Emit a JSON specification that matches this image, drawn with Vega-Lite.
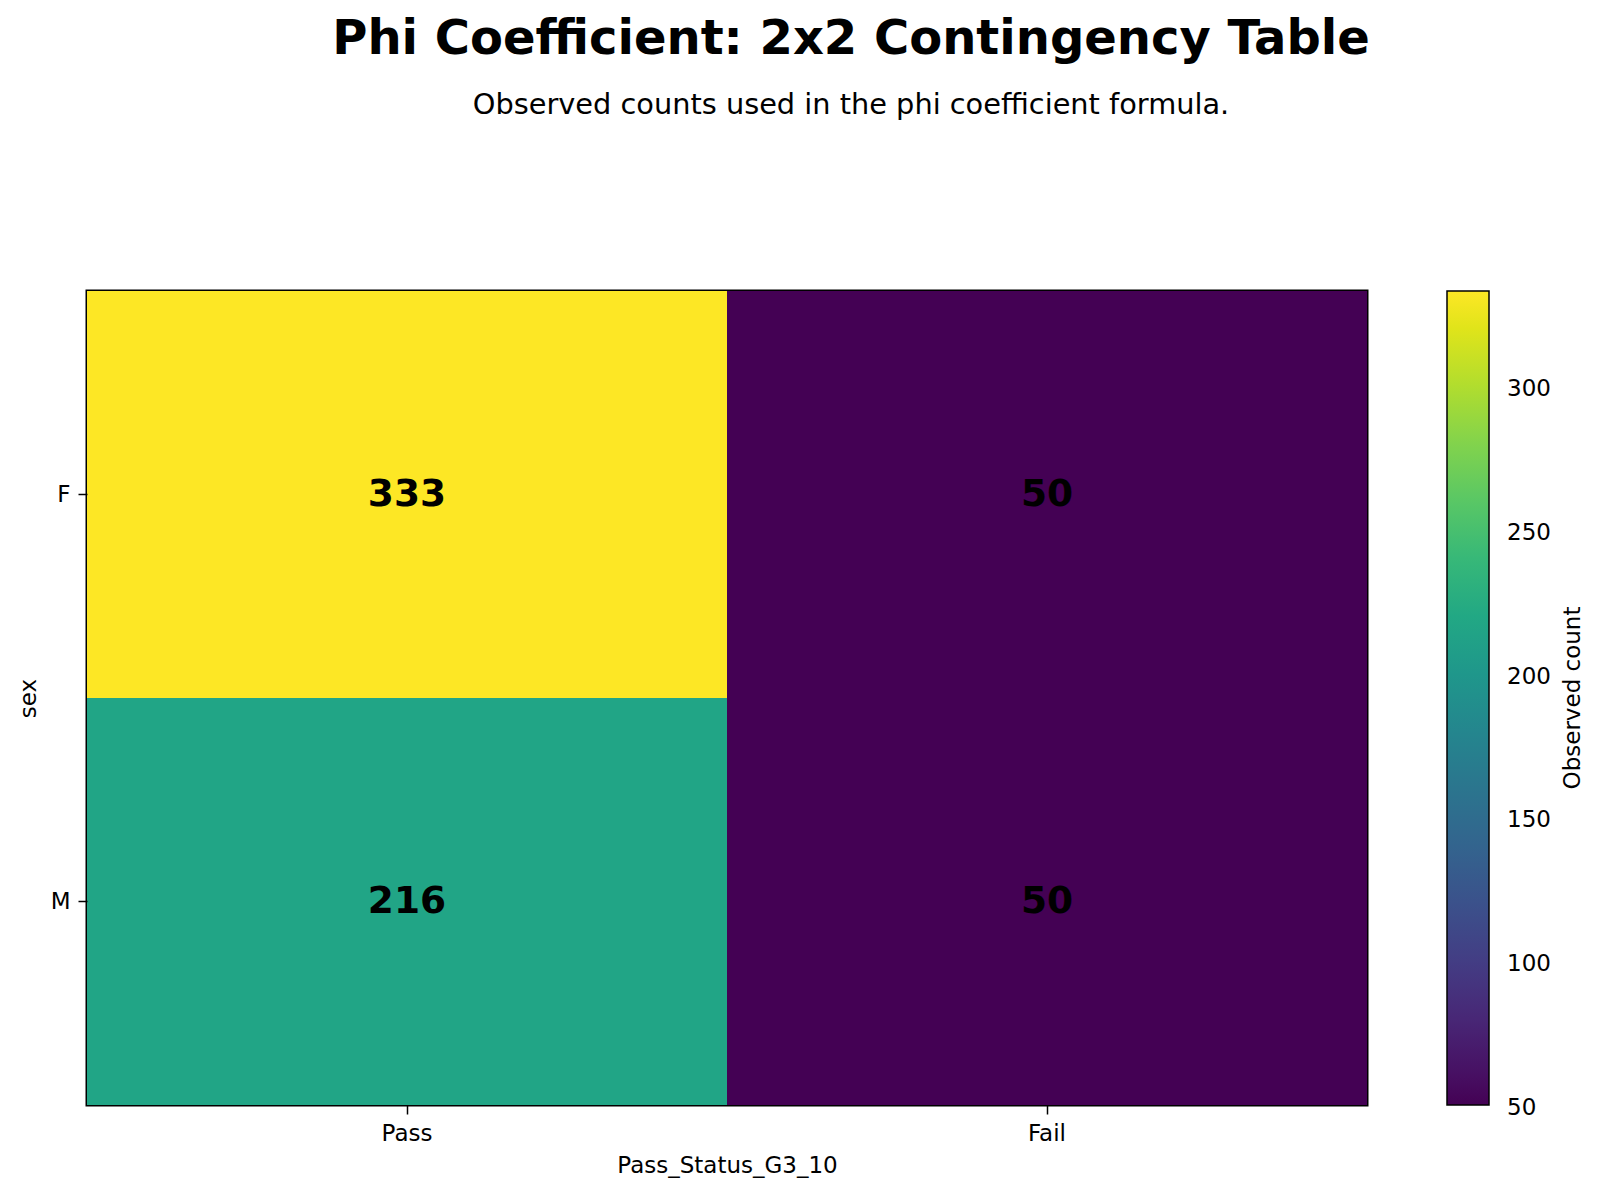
{
  "$schema": "https://vega.github.io/schema/vega-lite/v6.json",
  "autosize": {"type": "none"},
  "padding": {"left": 87, "top": 291, "right": 233, "bottom": 89},
  "width": 1280,
  "height": 814,
  "background": "white",
  "title": {
    "text": "Phi Coefficient: 2x2 Contingency Table",
    "subtitle": "Observed counts used in the phi coefficient formula.",
    "anchor": "middle",
    "frame": "group",
    "dx": 124,
    "offset": 171,
    "font": "DejaVu Sans",
    "fontSize": 48,
    "fontWeight": "bold",
    "color": "black",
    "subtitleFont": "DejaVu Sans",
    "subtitleFontSize": 28.8,
    "subtitleColor": "black",
    "subtitlePadding": 27
  },
  "config": {
    "font": "DejaVu Sans",
    "view": {"stroke": "black", "strokeWidth": 3},
    "axis": {
      "labelFont": "DejaVu Sans",
      "labelFontSize": 23,
      "labelColor": "black",
      "titleFont": "DejaVu Sans",
      "titleFontSize": 23,
      "titleFontWeight": "normal",
      "titleColor": "black",
      "tickColor": "black",
      "tickSize": 9,
      "tickWidth": 1.5,
      "domain": false,
      "grid": false
    }
  },
  "data": {
    "values": [
      {"sex": "F", "Pass_Status_G3_10": "Pass", "count": 333},
      {"sex": "F", "Pass_Status_G3_10": "Fail", "count": 50},
      {"sex": "M", "Pass_Status_G3_10": "Pass", "count": 216},
      {"sex": "M", "Pass_Status_G3_10": "Fail", "count": 50}
    ]
  },
  "encoding": {
    "x": {
      "field": "Pass_Status_G3_10",
      "type": "nominal",
      "sort": ["Pass", "Fail"],
      "scale": {"paddingInner": 0, "paddingOuter": 0},
      "axis": {"labelAngle": 0, "labelPadding": 8, "titlePadding": 9, "title": "Pass_Status_G3_10"}
    },
    "y": {
      "field": "sex",
      "type": "nominal",
      "sort": ["F", "M"],
      "scale": {"paddingInner": 0, "paddingOuter": 0},
      "axis": {"labelPadding": 8, "titlePadding": 10, "title": "sex"}
    }
  },
  "layer": [
    {
      "mark": {"type": "rect"},
      "encoding": {
        "color": {
          "field": "count",
          "type": "quantitative",
          "scale": {"scheme": "viridis", "domain": [50, 333]},
          "legend": {
            "orient": "none",
            "legendX": 1360,
            "legendY": 0,
            "direction": "vertical",
            "gradientLength": 814,
            "gradientThickness": 42,
            "gradientStrokeColor": "black",
            "gradientStrokeWidth": 1.5,
            "values": [50, 100, 150, 200, 250, 300],
            "labelFont": "DejaVu Sans",
            "labelFontSize": 23,
            "labelColor": "black",
            "labelOffset": 18,
            "labelOverlap": false,
            "padding": 0,
            "title": "Observed count",
            "titleFont": "DejaVu Sans",
            "titleFontSize": 23,
            "titleFontWeight": "normal",
            "titleColor": "black",
            "titleOrient": "right",
            "titleAnchor": "middle",
            "titlePadding": 10,
            "titleLimit": 2000,
            "encode": {
              "labels": {"update": {"baseline": {"value": "middle"}, "dy": {"value": 3}}},
              "title": {"update": {
                "angle": {"value": 270},
                "align": {"value": "center"},
                "baseline": {"value": "middle"},
                "dy": {"value": 12}
              }}
            }
          }
        }
      }
    },
    {
      "mark": {"type": "text", "font": "DejaVu Sans", "fontSize": 37.5, "fontWeight": "bold", "color": "black"},
      "encoding": {
        "text": {"field": "count", "type": "quantitative"}
      }
    }
  ]
}
